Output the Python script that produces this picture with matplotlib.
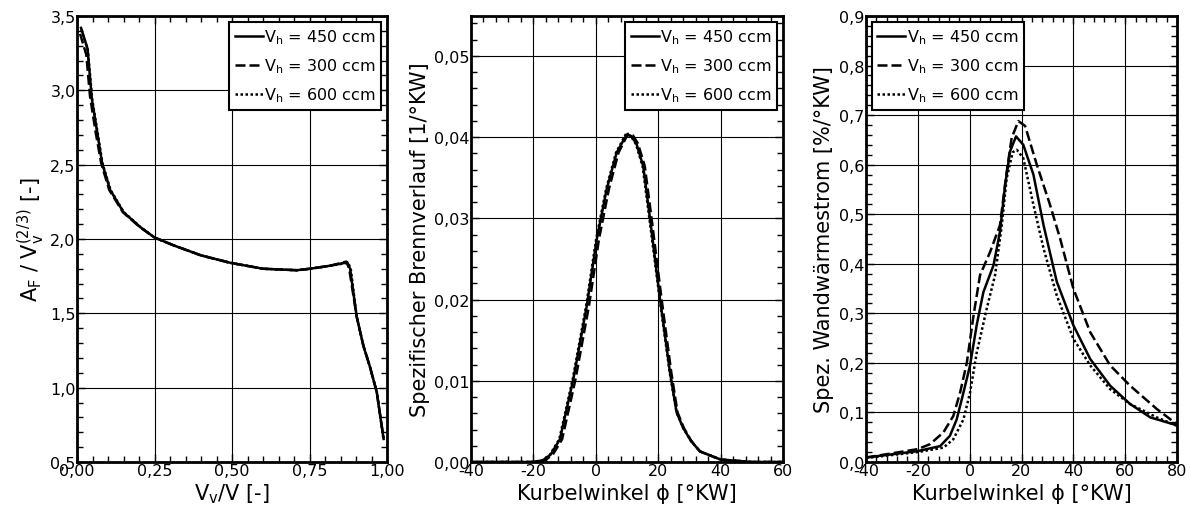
import matplotlib
matplotlib.use("Agg")
import matplotlib.pyplot as plt
from matplotlib.ticker import MultipleLocator, FuncFormatter

plt.rcParams['font.family'] = ['DejaVu Sans']
plt.rcParams['mathtext.fontset'] = 'dejavusans'

# ---- Panel 1 data: A_F / V_v^(2/3) vs V_v/V
p1_x_450 = [0.013, 0.034, 0.048, 0.065, 0.081, 0.107, 0.15, 0.204, 0.25, 0.312, 0.40, 0.494, 0.60, 0.709, 0.752, 0.816, 0.872, 0.881, 0.902, 0.924, 0.945, 0.967, 0.989]
p1_y_450 = [3.42, 3.28, 2.94, 2.72, 2.51, 2.33, 2.18, 2.08, 2.01, 1.957, 1.89, 1.84, 1.80, 1.79, 1.80, 1.82, 1.843, 1.80, 1.48, 1.28, 1.14, 0.97, 0.655]
p1_x_300 = [0.010, 0.030, 0.042, 0.060, 0.078, 0.104, 0.148, 0.203, 0.25, 0.312, 0.40, 0.494, 0.60, 0.709, 0.752, 0.816, 0.869, 0.878, 0.902, 0.924, 0.945, 0.967, 0.989]
p1_y_300 = [3.38, 3.24, 2.96, 2.72, 2.51, 2.33, 2.18, 2.08, 2.01, 1.957, 1.89, 1.84, 1.80, 1.79, 1.80, 1.82, 1.848, 1.80, 1.48, 1.28, 1.14, 0.97, 0.66]
p1_x_600 = [0.014, 0.035, 0.049, 0.066, 0.082, 0.108, 0.151, 0.205, 0.25, 0.312, 0.40, 0.494, 0.60, 0.709, 0.752, 0.816, 0.874, 0.883, 0.902, 0.924, 0.945, 0.967, 0.989]
p1_y_600 = [3.41, 3.27, 2.94, 2.72, 2.51, 2.33, 2.18, 2.08, 2.01, 1.957, 1.89, 1.84, 1.80, 1.79, 1.80, 1.82, 1.84, 1.80, 1.48, 1.28, 1.14, 0.97, 0.65]

# ---- Panel 2 data: specific burn rate vs crank angle
p2_x_450 = [-40, -20, -17.0, -14.5, -11.5, -7.2, -2.9, 0.3, 3.5, 6.7, 9.9, 11.5, 13.1, 15.2, 17.4, 20.6, 23.8, 25.9, 28.0, 30.5, 33.4, 40, 50, 60]
p2_y_450 = [0.0, 0.0, 0.0002, 0.0009, 0.0028, 0.0102, 0.0192, 0.0274, 0.0336, 0.0381, 0.0403, 0.0401, 0.0391, 0.0364, 0.0299, 0.0200, 0.0110, 0.0061, 0.0042, 0.0026, 0.0013, 0.0003, 0.0, 0.0]
p2_x_300 = [-40, -20, -16.3, -13.8, -10.8, -6.5, -2.2, 1.0, 4.2, 7.3, 10.3, 11.9, 13.5, 15.7, 17.9, 21.1, 24.2, 26.2, 28.2, 30.6, 33.4, 40, 50, 60]
p2_y_300 = [0.0, 0.0, 0.0002, 0.0009, 0.0028, 0.0102, 0.0192, 0.0274, 0.0336, 0.0381, 0.0404, 0.0402, 0.0392, 0.0364, 0.0299, 0.0200, 0.0110, 0.0061, 0.0042, 0.0026, 0.0013, 0.0003, 0.0, 0.0]
p2_x_600 = [-40, -20, -17.2, -14.7, -11.7, -7.4, -3.1, 0.1, 3.3, 6.5, 9.7, 11.3, 12.9, 15.0, 17.2, 20.5, 23.7, 25.9, 28.0, 30.5, 33.4, 40, 50, 60]
p2_y_600 = [0.0, 0.0, 0.0002, 0.0009, 0.0028, 0.0102, 0.0192, 0.0274, 0.0336, 0.0381, 0.0404, 0.0401, 0.0391, 0.0364, 0.0299, 0.0200, 0.0110, 0.0061, 0.0042, 0.0026, 0.0013, 0.0003, 0.0, 0.0]

# ---- Panel 3 data: specific wall heat flux vs crank angle
p3_x_450 = [-40, -20, -11.4, -7.6, -5.0, -2.4, 0.15, 2.7, 5.3, 9.2, 11.7, 13.7, 15.6, 17.9, 20.7, 24.6, 28.5, 33.6, 40, 46.5, 54.2, 61.9, 69.7, 80]
p3_y_450 = [0.009, 0.022, 0.032, 0.053, 0.086, 0.140, 0.195, 0.276, 0.343, 0.397, 0.465, 0.560, 0.627, 0.657, 0.640, 0.580, 0.478, 0.364, 0.276, 0.208, 0.154, 0.117, 0.090, 0.074]
p3_x_300 = [-40, -20, -15.3, -10.1, -6.3, -3.7, -1.1, 1.5, 4.0, 7.9, 11.7, 14.3, 16.2, 18.8, 21.4, 25.9, 31.0, 34.9, 40, 46.5, 54.2, 61.9, 72.2, 80]
p3_y_300 = [0.009, 0.026, 0.036, 0.060, 0.093, 0.140, 0.200, 0.296, 0.377, 0.424, 0.478, 0.586, 0.654, 0.688, 0.678, 0.600, 0.519, 0.451, 0.350, 0.262, 0.195, 0.154, 0.107, 0.076]
p3_x_600 = [-40, -20, -10.1, -6.3, -2.4, 0.15, 2.7, 6.6, 9.8, 12.4, 14.3, 16.6, 18.2, 20.7, 24.6, 28.5, 33.6, 40, 46.5, 54.2, 61.9, 72.2, 80]
p3_y_600 = [0.008, 0.020, 0.029, 0.046, 0.086, 0.140, 0.220, 0.310, 0.377, 0.478, 0.573, 0.625, 0.630, 0.613, 0.519, 0.431, 0.336, 0.249, 0.195, 0.147, 0.117, 0.090, 0.073]

labels = ['V$_\\mathregular{h}$ = 450 ccm', 'V$_\\mathregular{h}$ = 300 ccm', 'V$_\\mathregular{h}$ = 600 ccm']
styles = ['-', (0, (4, 1.6)), (0, (1, 1))]

fig = plt.figure(figsize=(11.9, 5.1), dpi=100)
bottom = 47 / 510
height = 446 / 510
ax1 = fig.add_axes([77 / 1190, bottom, 310 / 1190, height])
ax2 = fig.add_axes([471 / 1190, bottom, 312 / 1190, height])
ax3 = fig.add_axes([866 / 1190, bottom, 311 / 1190, height])


def comma(dec):
    return FuncFormatter(lambda v, p: f"{v:.{dec}f}".replace('.', ','))


def style_ax(ax, xmaj, xmin, ymaj, ymin, xdec, ydec):
    ax.xaxis.set_major_locator(MultipleLocator(xmaj))
    ax.xaxis.set_minor_locator(MultipleLocator(xmin))
    ax.yaxis.set_major_locator(MultipleLocator(ymaj))
    ax.yaxis.set_minor_locator(MultipleLocator(ymin))
    ax.xaxis.set_major_formatter(comma(xdec))
    ax.yaxis.set_major_formatter(comma(ydec))
    ax.grid(True, which='major', color='black', lw=0.8)
    ax.tick_params(which='both', direction='in', top=True, right=True, labelsize=11.5, pad=1)
    ax.tick_params(which='major', length=6, width=1)
    ax.tick_params(which='minor', length=4, width=1)
    for s in ax.spines.values():
        s.set_linewidth(2)
    ax.set_axisbelow(True)


lw = 1.8
fs_lab = 15
ax1.plot(p1_x_450, p1_y_450, color='black', lw=lw, ls=styles[0], label=labels[0])
ax1.plot(p1_x_300, p1_y_300, color='black', lw=lw, ls=styles[1], label=labels[1])
ax1.plot(p1_x_600, p1_y_600, color='black', lw=lw, ls=styles[2], label=labels[2])
ax1.set_xlim(0, 1)
ax1.set_ylim(0.5, 3.5)
style_ax(ax1, 0.25, 0.05, 0.5, 0.1, 2, 1)
ax1.set_xlabel('V$_\\mathregular{v}$/V [-]', fontsize=fs_lab, labelpad=2)
ax1.set_ylabel('A$_\\mathregular{F}$ / V$_\\mathregular{v}^\\mathregular{(2/3)}$ [-]', fontsize=fs_lab, labelpad=2)

ax2.plot(p2_x_450, p2_y_450, color='black', lw=lw, ls=styles[0], label=labels[0])
ax2.plot(p2_x_300, p2_y_300, color='black', lw=lw, ls=styles[1], label=labels[1])
ax2.plot(p2_x_600, p2_y_600, color='black', lw=lw, ls=styles[2], label=labels[2])
ax2.set_xlim(-40, 60)
ax2.set_ylim(0, 0.0549)
style_ax(ax2, 20, 4, 0.01, 0.002, 0, 2)
ax2.set_xlabel('Kurbelwinkel ϕ [°KW]', fontsize=fs_lab, labelpad=3)
ax2.set_ylabel('Spezifischer Brennverlauf [1/°KW]', fontsize=fs_lab, labelpad=3)

ax3.plot(p3_x_450, p3_y_450, color='black', lw=lw, ls=styles[0], label=labels[0])
ax3.plot(p3_x_300, p3_y_300, color='black', lw=lw, ls=styles[1], label=labels[1])
ax3.plot(p3_x_600, p3_y_600, color='black', lw=lw, ls=styles[2], label=labels[2])
ax3.set_xlim(-40, 80)
ax3.set_ylim(0, 0.9)
style_ax(ax3, 20, 4, 0.1, 0.02, 0, 1)
ax3.set_xlabel('Kurbelwinkel ϕ [°KW]', fontsize=fs_lab, labelpad=3)
ax3.set_ylabel('Spez. Wandwärmestrom [%/°KW]', fontsize=fs_lab, labelpad=4)

for ax, loc in [(ax1, 'upper right'), (ax2, 'upper right'), (ax3, 'upper left')]:
    leg = ax.legend(loc=loc, fontsize=11.5, handlelength=1.75, handletextpad=0.1,
                    borderpad=0.35, labelspacing=0.65, borderaxespad=0.35,
                    fancybox=False, framealpha=1, edgecolor='black')
    leg.get_frame().set_linewidth(1.5)

fig.savefig('out.png', dpi=100)
